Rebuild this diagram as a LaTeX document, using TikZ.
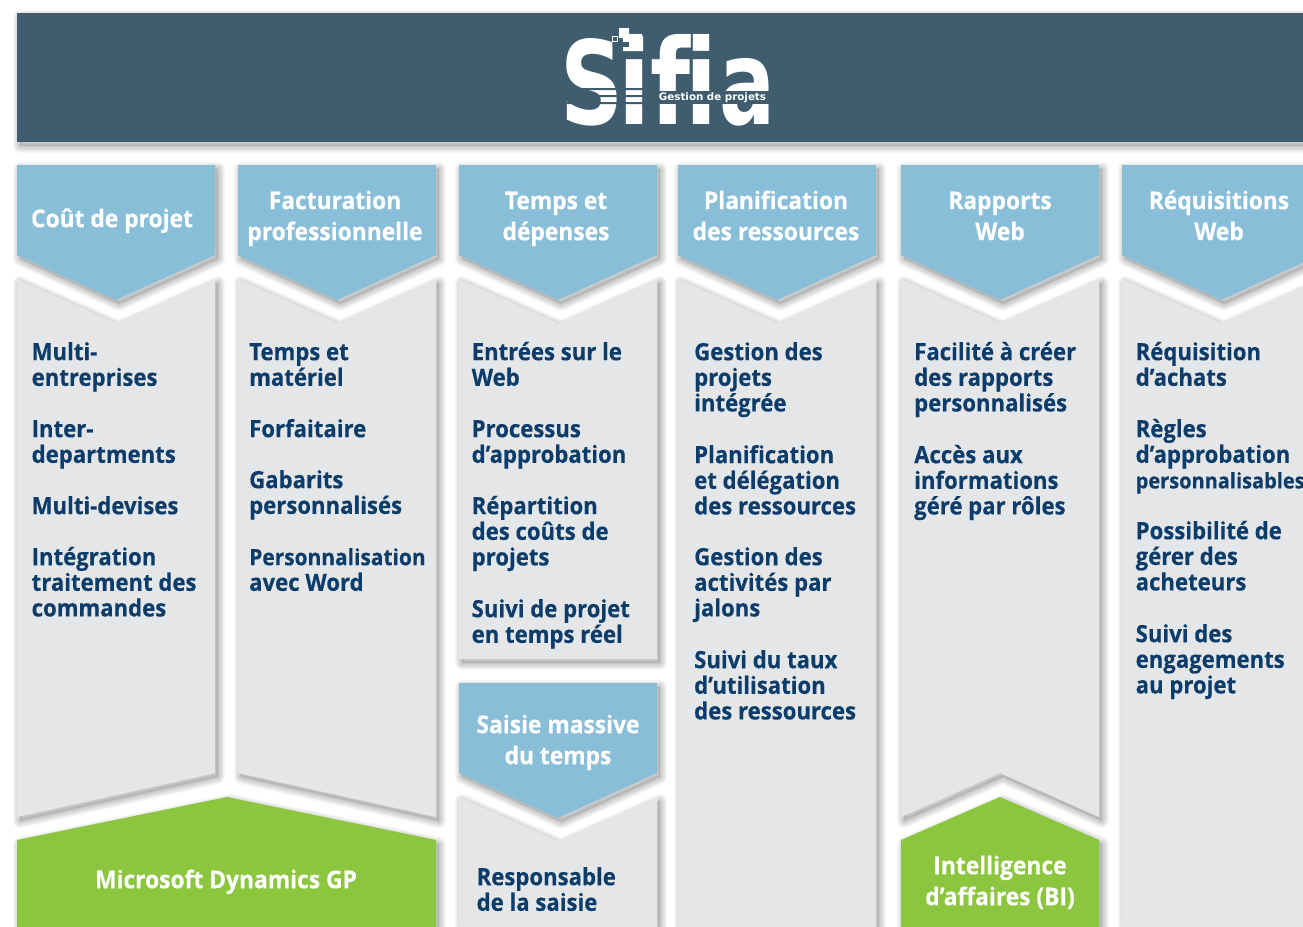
\documentclass[tikz,border=0pt]{standalone}
\usepackage{graphicx}
\usepackage{fontspec}
\setmainfont[FakeStretch=0.93,BoldFeatures={FakeBold=0.35}]{Open Sans}
\newfontfamily\logofont{DejaVu Sans}
\definecolor{headbar}{HTML}{3F5D6F}
\definecolor{chevblue}{HTML}{88BED8}
\definecolor{panelgray}{HTML}{E5E6E8}
\definecolor{leafgreen}{HTML}{8CC63F}
\definecolor{navytext}{HTML}{0B3C6A}
\tikzset{
  shadowlayer/.style={draw=black,draw opacity=0.03,line join=round},
  shadowcore/.style={fill=black,fill opacity=0.1},
  itemtext/.style={anchor=north west,inner sep=0pt,align=left,text=navytext,font=\fontsize{23.8}{25.6}\selectfont\bfseries},
  headtext/.style={anchor=north,inner sep=0pt,align=center,text=white,font=\fontsize{24.5}{31}\selectfont\bfseries},
  logoletter/.style={inner sep=0pt,anchor=south west,text=white,font=\logofont\bfseries},
}
\newcommand\softshape[2]{%
  \path[shadowcore,shift={(3,4)}] #2;
  \foreach \w in {14,12,10,8,6,4,2}{\path[shadowlayer,line width=\w pt,shift={(3,4)}] #2;}
  \path[fill=#1] #2;}
\newcommand\chev[3]{\softshape{chevblue}{(#1,#2) -- (#1+198,#2) -- (#1+198,#2+90) -- (#1+99,#2+135) -- (#1,#2+90) -- cycle}}
\newcommand\fs{\rule{0pt}{20pt}}
\begin{document}
\begin{tikzpicture}[x=1pt,y=-1pt]
\useasboundingbox (0,0) rectangle (1303,926);
\clip (0,0) rectangle (1303,926);
\fill[white] (0,0) rectangle (1303,926);
% header
\softshape{headbar}{(17,13) rectangle (1320,142)}
% panels
\softshape{panelgray}{(17,279) -- (116,323) -- (215,279) -- (215,773) -- (17,817) -- cycle}
\softshape{panelgray}{(238,279) -- (337,323) -- (436,279) -- (436,817) -- (238,773) -- cycle}
\softshape{panelgray}{(459,279) -- (558,323) -- (657,279) -- (657,659) -- (459,659) -- cycle}
\softshape{panelgray}{(459,797) -- (558,841) -- (657,797) -- (657,960) -- (459,960) -- cycle}
\softshape{panelgray}{(678,279) -- (777,323) -- (876,279) -- (876,960) -- (678,960) -- cycle}
\softshape{panelgray}{(901,279) -- (1000,323) -- (1099,279) -- (1099,817) -- (1000,773) -- (901,817) -- cycle}
\softshape{panelgray}{(1122,279) -- (1221,323) -- (1320,279) -- (1320,960) -- (1122,960) -- cycle}
% chevrons
\chev{17}{165}{}
\chev{238}{165}{}
\chev{459}{165}{}
\chev{678}{165}{}
\chev{901}{165}{}
\chev{1122}{165}{}
\chev{459}{683}{}
% green
\softshape{leafgreen}{(17,840) -- (227,797) -- (436,840) -- (436,960) -- (17,960) -- cycle}
\softshape{leafgreen}{(901,840) -- (1000,797) -- (1099,840) -- (1099,960) -- (901,960) -- cycle}
% logo
\node[logoletter] (logoS) at (560,126) {\resizebox{63pt}{86pt}{S}};
\node[logoletter] (logoIa) at (618.6,125) {\resizebox{32pt}{90pt}{i}};
\node[logoletter] (logoF) at (650,125) {\resizebox{40pt}{90pt}{f}};
\node[logoletter] (logoIb) at (685.6,125) {\resizebox{32pt}{90pt}{i}};
\node[logoletter] (logoA) at (719,126) {\resizebox{56pt}{66pt}{a}};
\fill[headbar] (565,88) rectangle (643,90) (565,95) rectangle (643,97) (565,102) rectangle (643,104);
\fill[headbar] (655,91) rectangle (770,104);
\fill[white] (619,28) rectangle (629,38) (623,36) rectangle (643,51);
\fill[headbar] (623,42) rectangle (629,47);
\filldraw[draw=white,fill=headbar,line width=1pt] (612.5,36.5) rectangle (617.5,41.5);
\node[inner sep=0pt,text=white,font=\logofont\fontsize{10.3}{12}\selectfont\bfseries] (logotag) at (712.5,97.5) {Gestion de projets};
% heads
\node[headtext] (h1) at (112,207) {\fs Coût de projet};
\node[headtext] (h2) at (335,189) {\fs Facturation\\professionnelle};
\node[headtext] (h3) at (556,189) {\fs Temps et\\dépenses};
\node[headtext] (h4) at (776,189) {\fs Planification\\des ressources};
\node[headtext] (h5) at (1000,189) {\fs Rapports\\Web};
\node[headtext] (h6) at (1219,189) {\fs Réquisitions\\Web};
\node[headtext] (h7) at (558,713) {\fs Saisie massive\\du temps};
\node[headtext] (g1) at (226,868) {\fs Microsoft Dynamics GP};
\node[headtext] (g2) at (1000,854) {\fs Intelligence\\d’affaires (BI)};
% col 1
\node[itemtext] (a1) at (31.5,340) {\fs Multi-\\entreprises};
\node[itemtext] (a2) at (31.5,417) {\fs Inter-\\departments};
\node[itemtext] (a3) at (31.5,494) {\fs Multi-devises};
\node[itemtext] (a4) at (31.5,545) {\fs Intégration\\traitement des\\commandes};
% col 2
\node[itemtext] (b1) at (249,340) {\fs Temps et\\matériel};
\node[itemtext] (b2) at (249,417) {\fs Forfaitaire};
\node[itemtext] (b3) at (249,468) {\fs Gabarits\\personnalisés};
\node[itemtext] (b4) at (249,545) {\fs {\fontsize{22.5}{25.6}\selectfont Personnalisation}\\avec Word};
% col 3
\node[itemtext] (c1) at (471.5,340) {\fs Entrées sur le\\Web};
\node[itemtext] (c2) at (471.5,417) {\fs Processus\\d’approbation};
\node[itemtext] (c3) at (471.5,494) {\fs Répartition\\des coûts de\\projets};
\node[itemtext] (c4) at (471.5,597) {\fs Suivi de projet\\en temps réel};
\node[itemtext] (c5) at (476.5,865) {\fs Responsable\\de la saisie};
% col 4
\node[itemtext] (d1) at (694,340) {\fs Gestion des\\projets\\intégrée};
\node[itemtext] (d2) at (694,443) {\fs Planification\\et délégation\\des ressources};
\node[itemtext] (d3) at (694,545) {\fs Gestion des\\activités par\\jalons};
\node[itemtext] (d4) at (694,648) {\fs Suivi du taux\\d’utilisation\\des ressources};
% col 5
\node[itemtext] (e1) at (914,340) {\fs Facilité à créer\\des rapports\\personnalisés};
\node[itemtext] (e2) at (914,443) {\fs Accès aux\\informations\\géré par rôles};
% col 6
\node[itemtext] (f1) at (1135.5,340) {\fs Réquisition\\d’achats};
\node[itemtext] (f2) at (1135.5,417) {\fs Règles\\d’approbation\\{\fontsize{21.5}{25.6}\selectfont personnalisables}};
\node[itemtext] (f3) at (1135.5,519) {\fs Possibilité de\\gérer des\\acheteurs};
\node[itemtext] (f4) at (1135.5,622) {\fs Suivi des\\engagements\\au projet};
\end{tikzpicture}
\end{document}
